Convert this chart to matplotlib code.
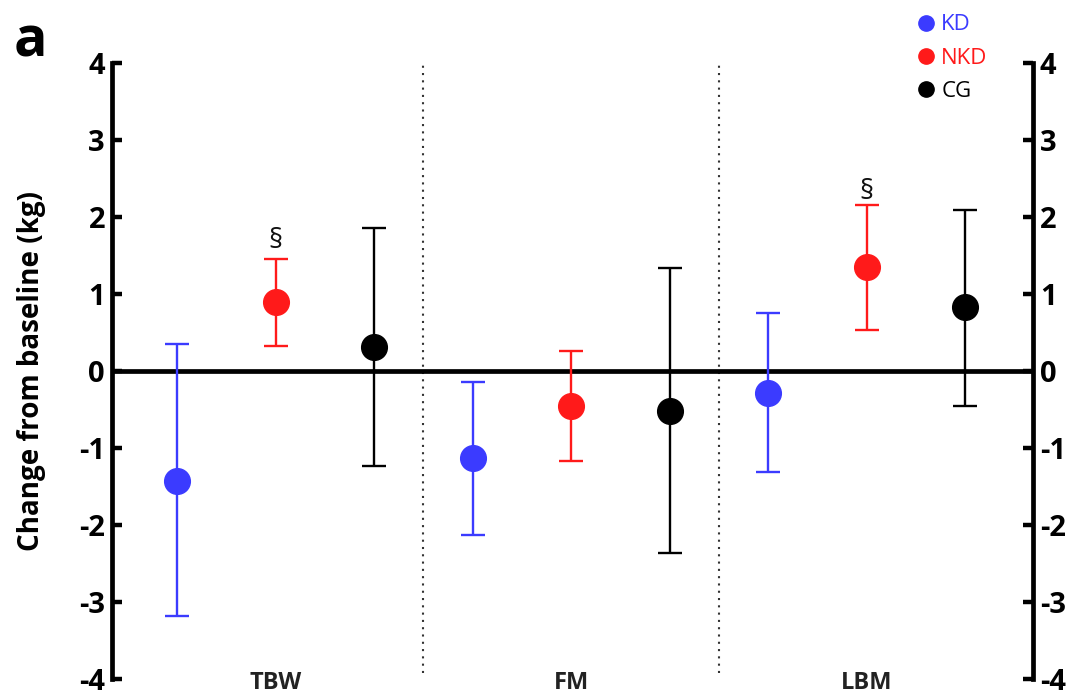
import matplotlib.pyplot as plt
from matplotlib.lines import Line2D

plt.rcParams['font.family'] = ['Open Sans', 'DejaVu Sans']
plt.rcParams['axes.unicode_minus'] = False

# Data
measures = ['TBW', 'FM', 'LBM']
groups = ['KD', 'NKD', 'CG']
colors = ['#3b3bff', '#ff1a1a', '#000000']

means = {
    'KD':  [-1.43, -1.13, -0.28],
    'NKD': [0.89, -0.45, 1.35],
    'CG':  [0.31, -0.52, 0.83],
}
upper = {
    'KD':  [0.35, -0.14, 0.75],
    'NKD': [1.45, 0.26, 2.15],
    'CG':  [1.86, 1.34, 2.09],
}
lower = {
    'KD':  [-3.18, -2.13, -1.31],
    'NKD': [0.32, -1.17, 0.53],
    'CG':  [-1.23, -2.36, -0.45],
}
sig_marks = [(0, 'NKD', 1.69), (2, 'NKD', 2.32)]  # (measure index, group, y)

fig = plt.figure(figsize=(10.79, 6.96), dpi=100)
ax = fig.add_axes([0.1038, 0.0244, 0.8536, 0.8851])

for g, (grp, col) in enumerate(zip(groups, colors)):
    xs = [m * 3 + g for m in range(len(measures))]
    ys = means[grp]
    err_lo = [y - lo for y, lo in zip(ys, lower[grp])]
    err_hi = [hi - y for y, hi in zip(ys, upper[grp])]
    ax.errorbar(xs, ys, yerr=[err_lo, err_hi], fmt='o', color=col,
                markersize=18.5, elinewidth=1.7, capsize=8.5, capthick=1.7,
                zorder=3)

for m, grp, y in sig_marks:
    ax.text(m * 3 + groups.index(grp), y, '§', ha='center', va='center',
            fontsize=20, color='#111111')

# zero line and group separators
ax.axhline(0, color='black', lw=3.4, zorder=2)
for xv in [2.5, 5.5]:
    ax.axvline(xv, ymin=0.01, ymax=1.0, color='#333333', lw=1.5,
               ls=(0, (1, 2.5)), zorder=1)

for m, name in enumerate(measures):
    ax.text(m * 3 + 1, -4.05, name, ha='center', va='center',
            fontsize=17, fontweight='bold', color='#222222', clip_on=False)

ax.set_xlim(-0.66, 8.69)
ax.set_ylim(-4, 4)
ax.set_yticks(range(-4, 5))
ax.set_xticks([])

for s in ['top', 'bottom']:
    ax.spines[s].set_visible(False)
for s in ['left', 'right']:
    ax.spines[s].set_linewidth(3.4)

ax.tick_params(axis='y', direction='in', length=7, width=3.2,
               labelsize=21, right=True, labelright=True, pad=5)
for lab in ax.get_yticklabels():
    lab.set_fontweight('bold')

ax.set_ylabel('Change from baseline (kg)', fontsize=20, fontweight='bold')
ax.yaxis.set_label_coords(-0.072, 0.5)

fig.text(0.013, 0.94, 'a', fontsize=40, fontweight='bold', va='center')

handles = [Line2D([], [], ls='none', marker='o', markersize=11,
                  color=c) for c in colors]
leg = fig.legend(handles, groups, loc='upper left',
                 bbox_to_anchor=(0.826, 1.008), frameon=False,
                 fontsize=16, handletextpad=0.05, labelspacing=0.55,
                 handlelength=1.3)
for txt, c in zip(leg.get_texts(), colors):
    txt.set_color(c)

fig.savefig('out.png', dpi=100)
